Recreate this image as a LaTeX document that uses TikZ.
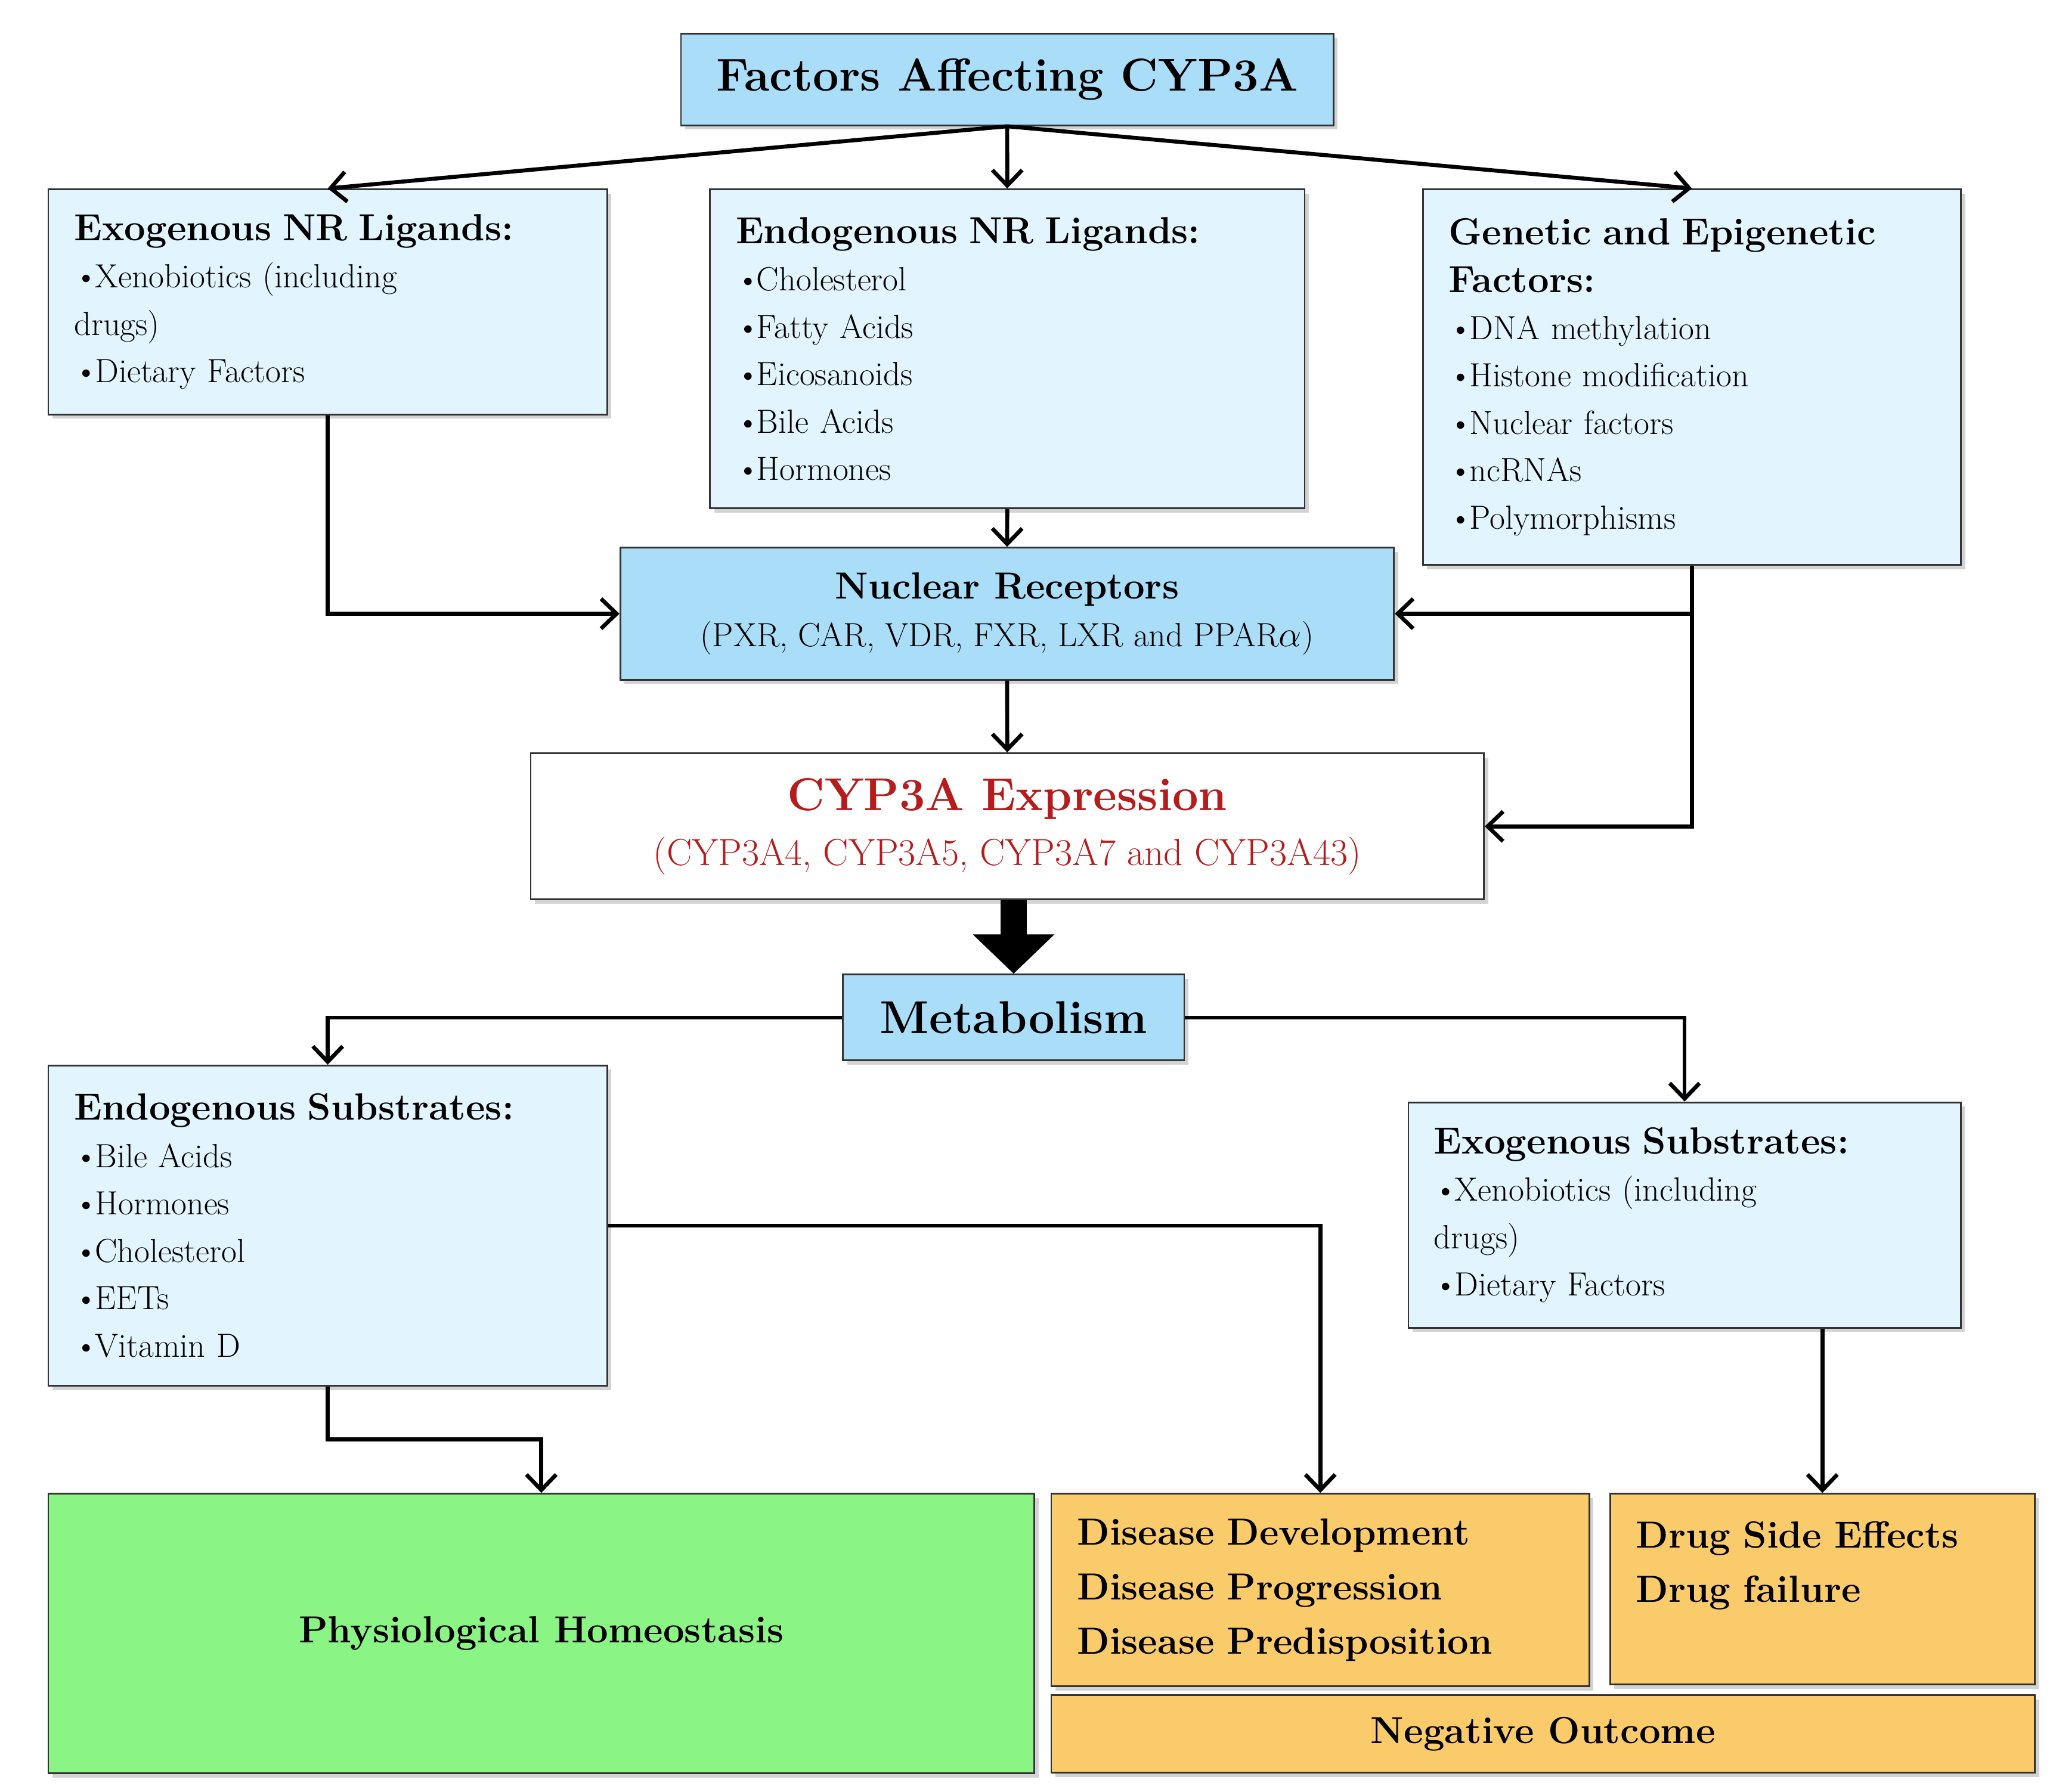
\documentclass[tikz,border=0pt]{standalone}
\usepackage{tikz}
\usetikzlibrary{positioning,arrows.meta,shadows}
\definecolor{headblue}{HTML}{A9DDF8}
\definecolor{paleblue}{HTML}{E2F4FD}
\definecolor{leafgreen}{HTML}{8AF585}
\definecolor{warnorange}{HTML}{FACB6B}
\definecolor{cypred}{HTML}{B71C1C}
\newcommand{\itm}{\textbullet\kern-0.1em}
\begin{document}
\begin{tikzpicture}[x=0.0221cm, y=-0.0221cm,
        box/.style={rectangle, draw=black!80, thick, anchor=north west, inner sep=0.42cm, drop shadow={shadow xshift=2pt, shadow yshift=-2pt, opacity=0.35}},
        headnode/.style={box, fill=headblue, font=\fontsize{22}{26}\selectfont\bfseries, align=center},
        listnode/.style={box, fill=paleblue, font=\fontsize{16}{22.6}\selectfont, align=left},
        outcomenode/.style={box, font=\fontsize{18}{26}\selectfont\bfseries, align=left},
        link/.style={line width=1.9pt, -{Straight Barb[length=2.6mm, width=5mm]}},
]
        \useasboundingbox (0,0) rectangle (1560,1360);

        \node[headnode, minimum width=10.94cm, minimum height=1.44cm] (factors) at (516,25) {Factors Affecting CYP3A};
        \node[listnode, minimum width=9.37cm, minimum height=3.76cm, text width=8.5cm] (exonr) at (36,143) {{\fontsize{18}{22.6}\selectfont\bfseries Exogenous NR Ligands:}\\\itm Xenobiotics (including\\drugs)\\\itm Dietary Factors};
        \node[listnode, minimum width=9.97cm, minimum height=5.35cm, text width=9.1cm] (endonr) at (538,143) {{\fontsize{18}{22.6}\selectfont\bfseries Endogenous NR Ligands:}\\\itm Cholesterol\\\itm Fatty Acids\\\itm Eicosanoids\\\itm Bile Acids\\\itm Hormones};
        \node[listnode, minimum width=9.02cm, minimum height=6.30cm, text width=8.15cm] (genetic) at (1079,143) {{\fontsize{18}{22.6}\selectfont\bfseries Genetic and Epigenetic}\\{\fontsize{18}{22.6}\selectfont\bfseries Factors:}\\\itm DNA methylation\\\itm Histone modification\\\itm Nuclear factors\\\itm ncRNAs\\\itm Polymorphisms};
        \node[box, fill=headblue, align=center, minimum width=12.97cm, minimum height=2.12cm, font=\fontsize{16}{22.6}\selectfont] (receptors) at (470,415) {{\fontsize{18}{22.6}\selectfont\bfseries Nuclear Receptors}\\(PXR, CAR, VDR, FXR, LXR and PPAR$\alpha$)};
        \node[box, fill=white, align=center, text=cypred, minimum width=15.98cm, minimum height=2.41cm, font=\fontsize{18}{26}\selectfont] (expression) at (402,571) {{\fontsize{22}{26}\selectfont\bfseries CYP3A Expression}\\(CYP3A4, CYP3A5, CYP3A7 and CYP3A43)};
        \node[headnode, minimum width=5.72cm, minimum height=1.44cm] (metabolism) at (639,739) {Metabolism};
        \node[listnode, minimum width=9.37cm, minimum height=5.37cm, text width=8.5cm] (endosub) at (36,808) {{\fontsize{18}{22.6}\selectfont\bfseries Endogenous Substrates:}\\\itm Bile Acids\\\itm Hormones\\\itm Cholesterol\\\itm EETs\\\itm Vitamin D};
        \node[listnode, minimum width=9.26cm, minimum height=3.73cm, text width=8.4cm] (exosub) at (1068,836) {{\fontsize{18}{22.6}\selectfont\bfseries Exogenous Substrates:}\\\itm Xenobiotics (including\\drugs)\\\itm Dietary Factors};
        \node[outcomenode, fill=leafgreen, align=center, minimum width=16.53cm, minimum height=4.69cm] (homeostasis) at (36,1133) {Physiological Homeostasis};
        \node[outcomenode, fill=warnorange, minimum width=9.02cm, minimum height=3.20cm, text width=8.15cm] (disease) at (797,1133) {Disease Development\\Disease Progression\\Disease Predisposition};
        \node[outcomenode, fill=warnorange, minimum width=7.12cm, minimum height=3.20cm, text width=6.25cm] (drug) at (1221,1133) {Drug Side Effects\\Drug failure\\\phantom{X}};
        \node[outcomenode, fill=warnorange, align=center, minimum width=16.49cm, minimum height=1.30cm, inner sep=0.1cm] (negative) at (797,1286) {Negative Outcome};

        \draw[link] (factors.south) -- (exonr.north);
        \draw[link] (factors.south) -- (endonr.north);
        \draw[link] (factors.south) -- (genetic.north);
        \draw[link] (exonr.south) |- (receptors.west);
        \draw[link] (endonr.south) -- (receptors.north);
        \draw[link] (genetic.south) |- (expression.east);
        \draw[link] (genetic.south |- receptors.east) -- (receptors.east);
        \draw[link] (receptors.south) -- (expression.north);
        \draw[line width=0.44cm, -{Triangle[length=0.66cm, width=1.33cm]}] (metabolism.north |- expression.south) -- (metabolism.north);
        \draw[link] (metabolism.west) -| (endosub.north);
        \draw[link] (metabolism.east) -| (exosub.north);
        \draw[link] (endosub.east) -| (disease.north);
        \draw[link] (endosub.south) -- ++(0,40) -| (homeostasis.north);
        \draw[link] (exosub.south -| drug.north) -- (drug.north);
\end{tikzpicture}
\end{document}
